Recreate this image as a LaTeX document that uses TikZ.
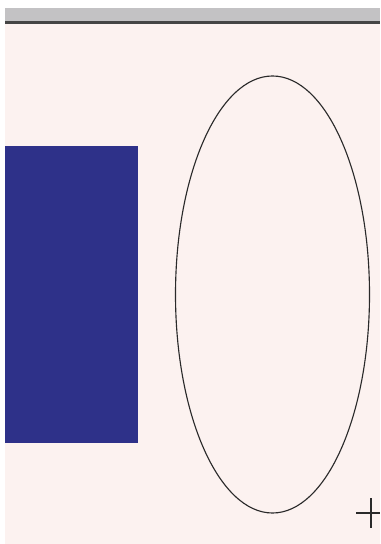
\documentclass[tikz,border=0pt]{standalone}
\usetikzlibrary{shapes.geometric}
\definecolor{cBg}{HTML}{FCF2F0}
\definecolor{cBar}{HTML}{C3C2C4}
\definecolor{cRule}{HTML}{454545}
\definecolor{cBlue}{HTML}{2E3189}
\definecolor{cInk}{HTML}{2A2A2A}
\tikzset{
    panel/.style ={fill=cBg, draw=none},
    bar/.style   ={fill=cBar, draw=none},
    rule/.style  ={fill=cRule, draw=none},
    block/.style ={rectangle, fill=cBlue, draw=none, inner sep=0pt,
                   minimum width=33.25mm, minimum height=74.25mm},
    oval/.style  ={ellipse, draw=cInk, line width=0.8pt, inner sep=0pt,
                   minimum width=48.5mm, minimum height=109.25mm},
    cross/.style ={draw=cInk, line width=0.9pt},
}

\begin{document}
\begin{tikzpicture}[x=0.25mm, y=-0.25mm]

% ===================== Marco =====================
\useasboundingbox[fill=white] (0,0) rectangle (380,544);
\fill[bar]   (5,8)  rectangle (380,21);
\fill[rule]  (5,21) rectangle (380,24);
\fill[panel] (5,24) rectangle (380,544);

% ===================== Figuras =====================
\node[block] (rect) at (71.5,294.5) {};
\node[oval]  (elip) at (272.5,294.5) {};

% ===================== Cursor =====================
\coordinate (mark) at (371,513);
\draw[cross] ([xshift=-3.75mm]mark) -- ([xshift=2.25mm]mark);
\draw[cross] ([yshift=3.75mm]mark) -- ([yshift=-3.75mm]mark);

\end{tikzpicture}
\end{document}
